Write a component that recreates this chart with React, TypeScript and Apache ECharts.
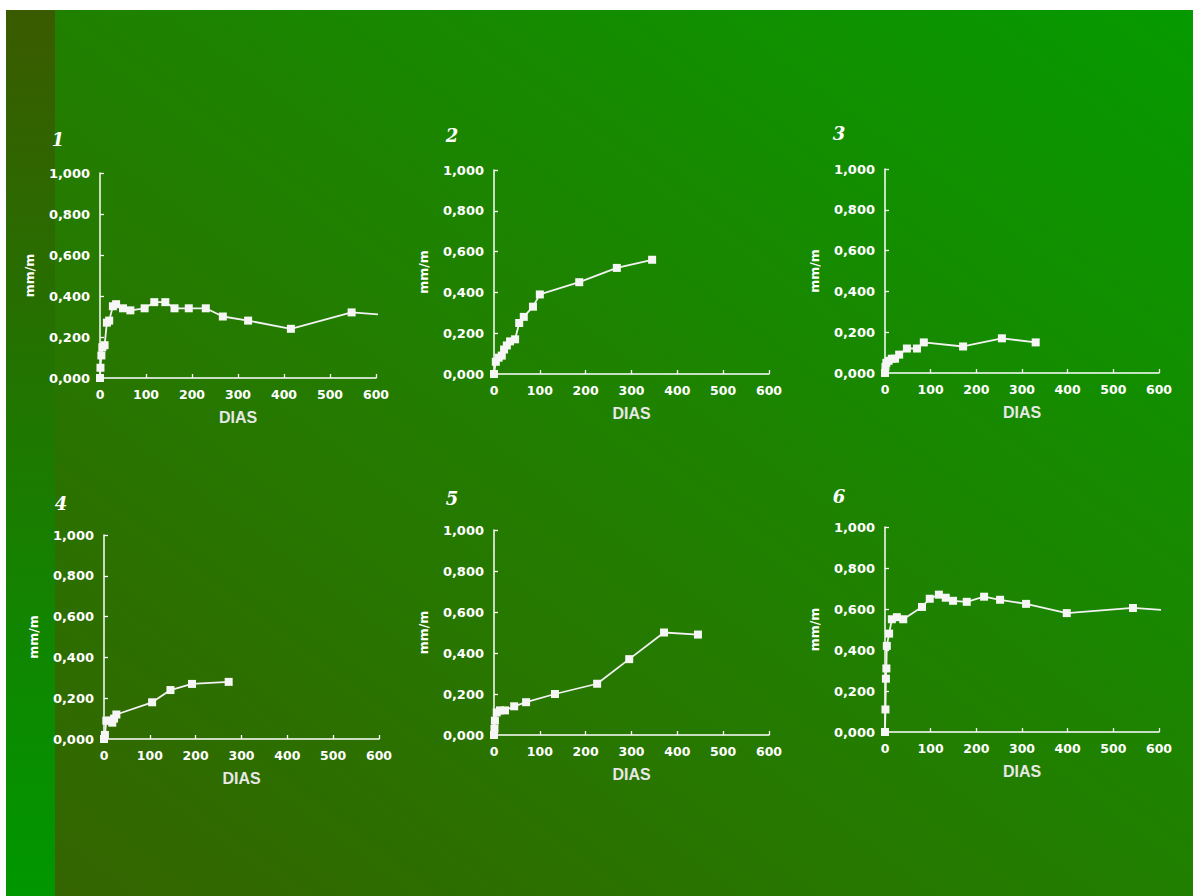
import React, { useEffect, useRef } from "react";
import * as echarts from "echarts";

// ---- data (days, mm/m) ----
const days1 = [0, 1, 3, 5, 10, 15, 20, 28, 35, 50, 66, 97, 118, 142, 162, 193, 230, 267, 322, 415, 547, 605];
const vals1 = [0.0, 0.05, 0.11, 0.15, 0.16, 0.27, 0.28, 0.35, 0.36, 0.34, 0.33, 0.34, 0.37, 0.37, 0.34, 0.34, 0.34, 0.3, 0.28, 0.24, 0.32, 0.31];

const days2 = [0, 4, 10, 17, 22, 28, 35, 46, 55, 65, 85, 100, 186, 268, 345];
const vals2 = [0.0, 0.06, 0.08, 0.09, 0.12, 0.14, 0.16, 0.17, 0.25, 0.28, 0.33, 0.39, 0.45, 0.52, 0.56];

const days3 = [0, 1, 3, 8, 15, 22, 31, 48, 70, 85, 171, 256, 330];
const vals3 = [0.0, 0.03, 0.05, 0.06, 0.07, 0.07, 0.09, 0.12, 0.12, 0.15, 0.13, 0.17, 0.15];

const days4 = [0, 2, 5, 12, 18, 22, 27, 105, 145, 192, 272];
const vals4 = [0.0, 0.02, 0.09, 0.09, 0.08, 0.1, 0.12, 0.18, 0.24, 0.27, 0.28];

const days5 = [0, 1, 2, 6, 13, 24, 44, 70, 133, 225, 295, 371, 445];
const vals5 = [0.0, 0.03, 0.07, 0.11, 0.12, 0.12, 0.14, 0.16, 0.2, 0.25, 0.37, 0.5, 0.49];

const days6 = [0, 1, 2, 3, 4, 9, 15, 26, 40, 81, 98, 118, 133, 149, 179, 217, 252, 309, 398, 543, 608];
const vals6 = [0.0, 0.11, 0.26, 0.31, 0.42, 0.48, 0.55, 0.56, 0.55, 0.61, 0.65, 0.67, 0.655, 0.64, 0.635, 0.66, 0.645, 0.625, 0.58, 0.605, 0.595];

// panels whose line runs on past the last marker
const openEnd = [true, false, false, false, false, true];

const panelLabels = ["1", "2", "3", "4", "5", "6"];
const xTitle = "DIAS";
const yTitle = "mm/m";

const allDays = [days1, days2, days3, days4, days5, days6];
const allVals = [vals1, vals2, vals3, vals4, vals5, vals6];

// layout (pixels)
const grids = [
  { left: 100, top: 173, width: 276, height: 205 },
  { left: 494, top: 170, width: 275, height: 204 },
  { left: 885, top: 169, width: 274, height: 204 },
  { left: 104, top: 535, width: 275, height: 204 },
  { left: 494, top: 530, width: 275, height: 205 },
  { left: 885, top: 527, width: 274, height: 205 },
];
const numPos = [
  [58, 139],
  [452, 135],
  [839, 133],
  [61, 503],
  [452, 498],
  [839, 496],
];

export default function App() {
  const ref = useRef<HTMLDivElement>(null);
  useEffect(() => {
    if (!ref.current) return;
    const chart = echarts.init(ref.current, undefined, { renderer: "svg" });
    const white = "#ffffff";
    const lineCol = "#f2f2f2";

    const xAxes = grids.map((_, i) => ({
      type: "value",
      gridIndex: i,
      min: 0,
      max: 600,
      interval: 100,
      name: xTitle,
      nameLocation: "middle",
      nameGap: 31,
      nameTextStyle: {
        color: "#e8e8e8",
        fontFamily: "Liberation Sans",
        fontWeight: "bold",
        fontSize: 16,
      },
      axisLine: { show: true, lineStyle: { color: white, width: 1.5 } },
      axisTick: { show: true, inside: true, length: 4, lineStyle: { color: white, width: 1.3 } },
      axisLabel: {
        color: white,
        fontFamily: "DejaVu Sans",
        fontWeight: "bold",
        fontSize: 12.5,
        margin: 10,
      },
      splitLine: { show: false },
    }));

    const yAxes = grids.map((_, i) => ({
      type: "value",
      gridIndex: i,
      min: 0,
      max: 1,
      interval: 0.2,
      name: yTitle,
      nameLocation: "middle",
      nameGap: 64,
      nameTextStyle: {
        color: white,
        fontFamily: "DejaVu Sans",
        fontWeight: "bold",
        fontSize: 12.5,
      },
      axisLine: { show: true, lineStyle: { color: white, width: 1.5 } },
      axisTick: { show: true, inside: true, length: 4, lineStyle: { color: white, width: 1.3 } },
      axisLabel: {
        color: white,
        fontFamily: "DejaVu Sans",
        fontWeight: "bold",
        fontSize: 13,
        margin: 10,
        formatter: (v: number) => v.toFixed(3).replace(".", ","),
      },
      splitLine: { show: false },
    }));

    const series = allDays.map((d, i) => ({
      type: "line",
      xAxisIndex: i,
      yAxisIndex: i,
      clip: false,
      symbol: "rect",
      symbolSize: 8,
      lineStyle: { color: lineCol, width: 1.8 },
      itemStyle: { color: "#f6f6f6" },
      data: d.map((x, j) => {
        const isLast = j === d.length - 1;
        if (openEnd[i] && isLast) return { value: [x, allVals[i][j]], symbol: "none" };
        return [x, allVals[i][j]];
      }),
    }));

    const graphicEls: any[] = [
      {
        type: "rect",
        z: -10,
        silent: true,
        shape: { x: 6, y: 10, width: 1187, height: 886 },
        style: {
          fill: new echarts.graphic.LinearGradient(1, 0, 0, 1, [
            { offset: 0, color: "#069a00" },
            { offset: 0.5, color: "#217f00" },
            { offset: 1, color: "#356300" },
          ]),
        },
      },
      {
        type: "rect",
        z: -9,
        silent: true,
        shape: { x: 6, y: 10, width: 49, height: 886 },
        style: {
          fill: new echarts.graphic.LinearGradient(0, 0, 0, 1, [
            { offset: 0, color: "#3a5b00" },
            { offset: 1, color: "#009700" },
          ]),
        },
      },
    ];
    numPos.forEach((p, i) => {
      graphicEls.push({
        type: "text",
        x: p[0],
        y: p[1],
        style: {
          text: panelLabels[i],
          fill: white,
          fontFamily: "DejaVu Serif",
          fontStyle: "italic",
          fontWeight: "bold",
          fontSize: 18,
          align: "center",
          verticalAlign: "middle",
        },
      });
    });

    chart.setOption({
      animation: false,
      backgroundColor: "#ffffff",
      grid: grids.map((g) => ({ ...g, containLabel: false })),
      xAxis: xAxes,
      yAxis: yAxes,
      series,
      graphic: { elements: graphicEls },
    } as any);

    return () => chart.dispose();
  }, []);

  return (
    <div
      ref={ref}
      style={{ position: "fixed", left: 0, top: 0, width: 1193, height: 896 }}
    />
  );
}
